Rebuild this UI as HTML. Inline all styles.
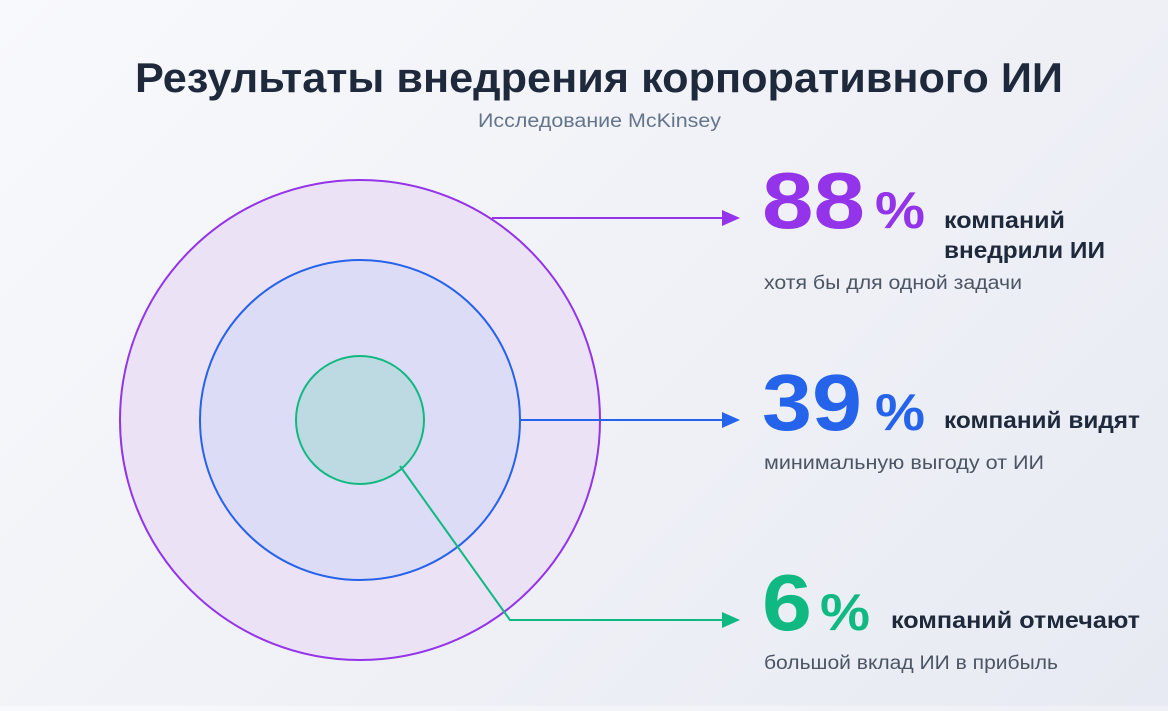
<!DOCTYPE html>
<html><head><meta charset="utf-8"><style>
html,body{margin:0;padding:0}
body{width:1168px;height:706px;overflow:hidden;background:linear-gradient(135deg,#f8f9fc 0%,#eef0f6 60%,#e7eaf2 100%);font-family:"Liberation Sans","DejaVu Sans",sans-serif}
</style></head><body>
<svg width="1168" height="706" viewBox="0 0 1168 706" xmlns="http://www.w3.org/2000/svg" font-family="Liberation Sans, DejaVu Sans, sans-serif">
<text x="135" y="92" font-size="42" font-weight="bold" fill="#1e293b" textLength="928" lengthAdjust="spacingAndGlyphs">Результаты внедрения корпоративного ИИ</text>
<text x="478" y="127" font-size="19" fill="#64748b" textLength="243" lengthAdjust="spacingAndGlyphs">Исследование McKinsey</text>

<circle cx="360" cy="420" r="240" fill="#ebe3f5" stroke="#9333ea" stroke-width="2"/>
<circle cx="360" cy="420" r="160" fill="#dcdcf6" stroke="#2563eb" stroke-width="2"/>
<circle cx="360" cy="420" r="64" fill="#bdd9e1" stroke="#10b981" stroke-width="2"/>

<line x1="492" y1="218" x2="724" y2="218" stroke="#9333ea" stroke-width="2"/>
<path d="M722,210 L740,218 L722,226 z" fill="#9333ea"/>
<line x1="520" y1="420" x2="724" y2="420" stroke="#2563eb" stroke-width="2"/>
<path d="M722,412 L740,420 L722,428 z" fill="#2563eb"/>
<polyline points="400,466 510,620 724,620" fill="none" stroke="#10b981" stroke-width="2"/>
<path d="M722,612 L740,620 L722,628 z" fill="#10b981"/>

<text x="762" y="228" font-size="80" font-weight="bold" fill="#9333ea" textLength="103" lengthAdjust="spacingAndGlyphs">88</text>
<text x="875" y="228" font-size="52" font-weight="bold" fill="#9333ea" textLength="50" lengthAdjust="spacingAndGlyphs">%</text>
<text x="944" y="228" font-size="23" font-weight="bold" fill="#1e293b" textLength="121" lengthAdjust="spacingAndGlyphs">компаний</text>
<text x="944" y="258" font-size="23" font-weight="bold" fill="#1e293b" textLength="161" lengthAdjust="spacingAndGlyphs">внедрили ИИ</text>
<text x="764" y="289" font-size="19" fill="#4b5563" textLength="258" lengthAdjust="spacingAndGlyphs">хотя бы для одной задачи</text>

<text x="762" y="430" font-size="80" font-weight="bold" fill="#2563eb" textLength="100" lengthAdjust="spacingAndGlyphs">39</text>
<text x="875" y="430" font-size="52" font-weight="bold" fill="#2563eb" textLength="50" lengthAdjust="spacingAndGlyphs">%</text>
<text x="944" y="428" font-size="23" font-weight="bold" fill="#1e293b" textLength="196" lengthAdjust="spacingAndGlyphs">компаний видят</text>
<text x="764" y="469" font-size="19" fill="#4b5563" textLength="280" lengthAdjust="spacingAndGlyphs">минимальную выгоду от ИИ</text>

<text x="762" y="630" font-size="80" font-weight="bold" fill="#10b981" textLength="50" lengthAdjust="spacingAndGlyphs">6</text>
<text x="820" y="630" font-size="52" font-weight="bold" fill="#10b981" textLength="50" lengthAdjust="spacingAndGlyphs">%</text>
<text x="891" y="628" font-size="23" font-weight="bold" fill="#1e293b" textLength="249" lengthAdjust="spacingAndGlyphs">компаний отмечают</text>
<text x="764" y="669" font-size="19" fill="#4b5563" textLength="294" lengthAdjust="spacingAndGlyphs">большой вклад ИИ в прибыль</text>
</svg>
</body></html>
